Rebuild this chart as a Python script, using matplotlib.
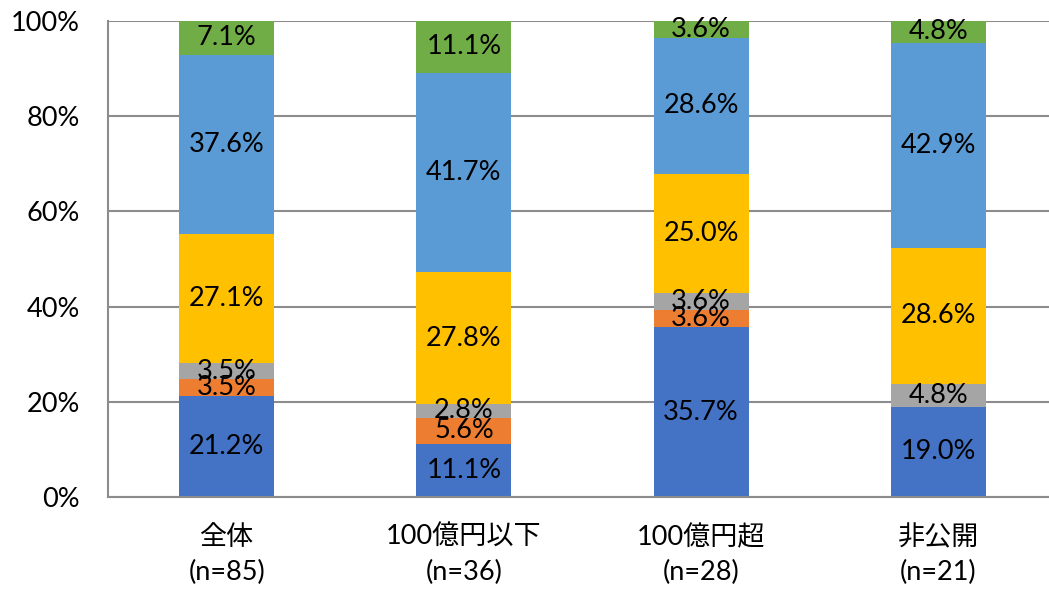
import matplotlib
matplotlib.use("Agg")
import matplotlib.pyplot as plt
import numpy as np

plt.rcParams['font.family'] = ['Lato', 'Noto Sans CJK JP', 'DejaVu Sans']

# ---- data ----
categories = ["全体", "100億円以下", "100億円超", "非公開"]
counts = ["(n=85)", "(n=36)", "(n=28)", "(n=21)"]

seg1 = [21.2, 11.1, 35.7, 19.0]   # dark blue
seg2 = [3.5, 5.6, 3.6, 0.0]       # orange
seg3 = [3.5, 2.8, 3.6, 4.8]       # gray
seg4 = [27.1, 27.8, 25.0, 28.6]   # yellow
seg5 = [37.6, 41.7, 28.6, 42.9]   # light blue
seg6 = [7.1, 11.1, 3.6, 4.8]      # green

segments = [seg1, seg2, seg3, seg4, seg5, seg6]
colors = ["#4472C4", "#ED7D31", "#A5A5A5", "#FFC000", "#5B9BD5", "#70AD47"]

fig = plt.figure(figsize=(10.49, 5.90), dpi=100)
ax = fig.add_axes([108 / 1049, 93 / 590, 949 / 1049, 476 / 590])

x = np.arange(len(categories))
bottom = np.zeros(len(categories))
for vals, col in zip(segments, colors):
    vals = np.array(vals)
    ax.bar(x, vals, 0.4, bottom=bottom, color=col, zorder=2)
    for xi, b, v in zip(x, bottom, vals):
        if v > 0:
            ax.text(xi, b + v / 2, f"{v:.1f}%", ha="center", va="center",
                    fontsize=19.5, color="black", zorder=3)
    bottom += vals

ax.set_xlim(-0.5, 3.5)
ax.set_ylim(0, 100)
ax.set_yticks(np.arange(0, 101, 20))
ax.set_yticklabels([f"{v}%" for v in range(0, 101, 20)], fontsize=19.5)
ax.set_xticks(x)
ax.set_xticklabels([f"{c}\n{n}" for c, n in zip(categories, counts)],
                   fontsize=19.5, linespacing=1.5)
ax.tick_params(axis="y", length=0, pad=20)
ax.tick_params(axis="x", length=0, pad=20)

ax.grid(axis="y", color="#8C8C8C", linewidth=1.5, zorder=0)
for s in ["top", "right"]:
    ax.spines[s].set_visible(False)
for s in ["left", "bottom"]:
    ax.spines[s].set_color("#8C8C8C")
    ax.spines[s].set_linewidth(1.5)

fig.savefig("out.png", dpi=100)
